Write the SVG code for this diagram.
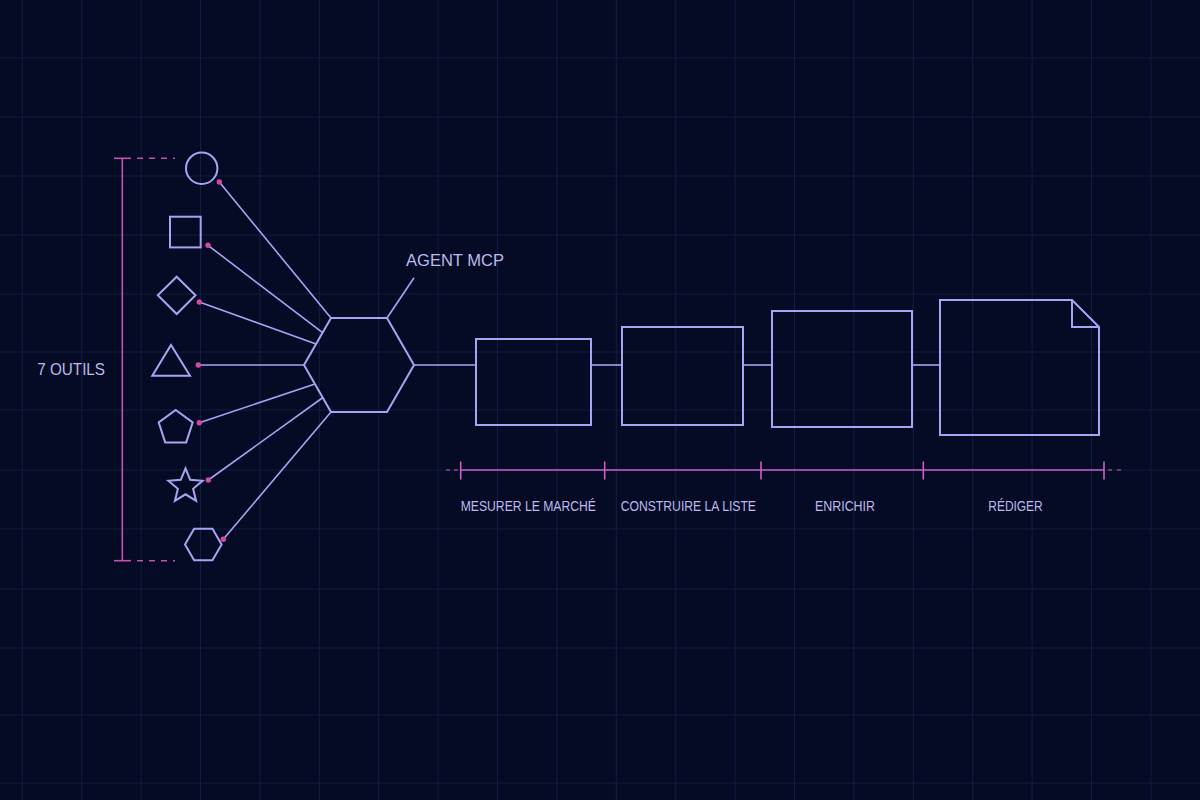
<svg xmlns="http://www.w3.org/2000/svg" width="1200" height="800" viewBox="0 0 1200 800">
<defs>
<style>
.grid line{stroke:#131c42;stroke-width:1.1}
.shape{fill:none;stroke:#a9a3f3;stroke-width:2;stroke-linejoin:miter}
.conn{stroke:#a9a3f3;stroke-width:1.6;fill:none}
.dot{fill:#d6479f}
.mag{stroke:#c451ad;stroke-width:1.6;fill:none}
.dash{stroke:#c451ad;stroke-width:1.4;stroke-dasharray:6 6;fill:none}
.lbl{font-family:"Liberation Sans",Arial,sans-serif;fill:#bdb9ea}
</style>
</defs>
<rect width="1200" height="800" fill="#050b25"/>
<g class="grid">
<line x1="22.3" y1="0" x2="22.3" y2="800"/><line x1="81.7" y1="0" x2="81.7" y2="800"/><line x1="141.1" y1="0" x2="141.1" y2="800"/><line x1="200.5" y1="0" x2="200.5" y2="800"/><line x1="259.9" y1="0" x2="259.9" y2="800"/><line x1="319.3" y1="0" x2="319.3" y2="800"/><line x1="378.7" y1="0" x2="378.7" y2="800"/><line x1="438.1" y1="0" x2="438.1" y2="800"/><line x1="497.5" y1="0" x2="497.5" y2="800"/><line x1="556.9" y1="0" x2="556.9" y2="800"/><line x1="616.3" y1="0" x2="616.3" y2="800"/><line x1="675.7" y1="0" x2="675.7" y2="800"/><line x1="735.1" y1="0" x2="735.1" y2="800"/><line x1="794.5" y1="0" x2="794.5" y2="800"/><line x1="853.9" y1="0" x2="853.9" y2="800"/><line x1="913.3" y1="0" x2="913.3" y2="800"/><line x1="972.7" y1="0" x2="972.7" y2="800"/><line x1="1032.1" y1="0" x2="1032.1" y2="800"/><line x1="1091.5" y1="0" x2="1091.5" y2="800"/><line x1="1150.9" y1="0" x2="1150.9" y2="800"/>
<line x1="0" y1="58" x2="1200" y2="58"/><line x1="0" y1="117" x2="1200" y2="117"/><line x1="0" y1="176" x2="1200" y2="176"/><line x1="0" y1="235" x2="1200" y2="235"/><line x1="0" y1="294" x2="1200" y2="294"/><line x1="0" y1="352" x2="1200" y2="352"/><line x1="0" y1="410" x2="1200" y2="410"/><line x1="0" y1="470" x2="1200" y2="470"/><line x1="0" y1="529" x2="1200" y2="529"/><line x1="0" y1="589" x2="1200" y2="589"/><line x1="0" y1="648" x2="1200" y2="648"/><line x1="0" y1="715" x2="1200" y2="715"/><line x1="0" y1="783" x2="1200" y2="783"/>
</g>

<g id="bracket">
<line class="mag" x1="122.3" y1="158.3" x2="122.3" y2="560.7"/>
<line class="mag" x1="114" y1="158.3" x2="131" y2="158.3"/>
<line class="mag" x1="114" y1="560.7" x2="131" y2="560.7"/>
<line class="dash" x1="137" y1="158.3" x2="175" y2="158.3"/>
<line class="dash" x1="137" y1="560.7" x2="175" y2="560.7"/>
<text class="lbl" x="37.3" y="375" font-size="17" textLength="67.7" lengthAdjust="spacingAndGlyphs">7 OUTILS</text>
</g>

<g id="connectors">
<line class="conn" x1="219.3" y1="182" x2="331" y2="318"/>
<line class="conn" x1="208" y1="245.3" x2="322.6" y2="332.7"/>
<line class="conn" x1="199.3" y1="302" x2="316" y2="344"/>
<line class="conn" x1="198.3" y1="365" x2="304" y2="365"/>
<line class="conn" x1="199.3" y1="422.7" x2="315" y2="384"/>
<line class="conn" x1="208.3" y1="480" x2="323" y2="397.5"/>
<line class="conn" x1="223.3" y1="539.3" x2="331" y2="412"/>
<line class="conn" x1="387" y1="318" x2="414" y2="277.7"/>
<line class="conn" x1="414" y1="365" x2="476" y2="365"/>
<line class="conn" x1="591" y1="365" x2="622" y2="365"/>
<line class="conn" x1="743" y1="365" x2="772" y2="365"/>
<line class="conn" x1="912" y1="365" x2="940" y2="365"/>
</g>

<g id="tool-circle"><circle class="shape" cx="201.7" cy="168.3" r="15.7"/><circle class="dot" cx="219.3" cy="182" r="2.7"/></g>
<g id="tool-square"><rect class="shape" x="170" y="216.7" width="30.7" height="30.7"/><circle class="dot" cx="208" cy="245.3" r="2.7"/></g>
<g id="tool-diamond"><polygon class="shape" points="176.7,276.7 195.5,295.3 176.7,314 157.8,295.3"/><circle class="dot" cx="199.3" cy="302" r="2.7"/></g>
<g id="tool-triangle"><polygon class="shape" points="171,345 190,375.7 152.3,375.7"/><circle class="dot" cx="198.3" cy="365" r="2.7"/></g>
<g id="tool-pentagon"><polygon class="shape" points="175.7,410 192.7,422.4 186.2,442.4 165.2,442.4 158.7,422.4"/><circle class="dot" cx="199.3" cy="422.7" r="2.7"/></g>
<g id="tool-star"><polygon class="shape" points="185.5,468.3 190.2,479.8 202.6,480.7 193.1,488.8 196.1,500.9 185.5,494.3 174.9,500.9 177.9,488.8 168.4,480.7 180.8,479.8"/><circle class="dot" cx="208.3" cy="480" r="2.7"/></g>
<g id="tool-hexagon"><polygon class="shape" points="185,544.5 194.15,528.7 212.45,528.7 221.6,544.5 212.45,560.3 194.15,560.3"/><circle class="dot" cx="223.3" cy="539.3" r="2.7"/></g>

<g id="agent">
<polygon class="shape" stroke-width="2.4" points="304,365 331,318 387,318 414,365 387,412 331,412"/>
<text class="lbl" x="406" y="266" font-size="16.5" textLength="98" lengthAdjust="spacingAndGlyphs">AGENT MCP</text>
</g>

<g id="step1"><rect class="shape" x="476" y="339" width="115" height="86"/></g>
<g id="step2"><rect class="shape" x="622" y="327" width="121" height="98"/></g>
<g id="step3"><rect class="shape" x="772" y="311" width="140" height="116"/></g>
<g id="step4"><path class="shape" d="M940,300 H1072 L1099,327 V435 H940 Z M1072,300 V327 H1099"/></g>

<g id="timeline">
<line x1="460.7" y1="470" x2="1104" y2="470" stroke="#cf5fc6" stroke-width="1.6"/>
<line x1="446" y1="470" x2="458" y2="470" stroke="#cf5fc6" stroke-width="1.2" stroke-dasharray="4 4"/>
<line x1="1108" y1="470" x2="1124" y2="470" stroke="#cf5fc6" stroke-width="1.2" stroke-dasharray="4 5"/>
<line x1="460.7" y1="461.5" x2="460.7" y2="479.5" stroke="#cf5fc6" stroke-width="1.6"/>
<line x1="604.7" y1="461.5" x2="604.7" y2="479.5" stroke="#cf5fc6" stroke-width="1.6"/>
<line x1="761" y1="461.5" x2="761" y2="479.5" stroke="#cf5fc6" stroke-width="1.6"/>
<line x1="923.3" y1="461.5" x2="923.3" y2="479.5" stroke="#cf5fc6" stroke-width="1.6"/>
<line x1="1104" y1="461.5" x2="1104" y2="479.5" stroke="#cf5fc6" stroke-width="1.6"/>
<text class="lbl" x="460.7" y="510.7" font-size="14.5" textLength="135.3" lengthAdjust="spacingAndGlyphs">MESURER LE MARCHÉ</text>
<text class="lbl" x="620.7" y="510.7" font-size="14.5" textLength="135.3" lengthAdjust="spacingAndGlyphs">CONSTRUIRE LA LISTE</text>
<text class="lbl" x="815" y="510.7" font-size="14.5" textLength="60" lengthAdjust="spacingAndGlyphs">ENRICHIR</text>
<text class="lbl" x="988.3" y="510.7" font-size="14.5" textLength="54.4" lengthAdjust="spacingAndGlyphs">RÉDIGER</text>
</g>
</svg>
